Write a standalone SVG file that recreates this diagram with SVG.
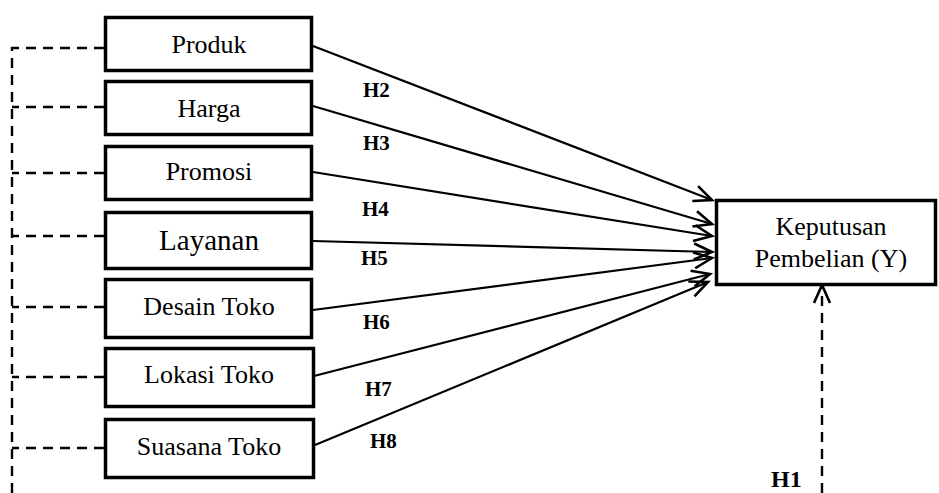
<svg xmlns="http://www.w3.org/2000/svg" width="939" height="493" viewBox="0 0 939 493">
<defs>
<style>
.box{fill:#fff;stroke:#000;stroke-width:3.5}
.lbl{font-family:"Liberation Serif","Times New Roman",serif;font-size:26px;fill:#000;text-anchor:middle}
.hl{font-family:"Liberation Serif","Times New Roman",serif;font-size:21px;font-weight:bold;fill:#000}
.arr{stroke:#000;stroke-width:2.2;fill:none;marker-end:url(#chev)}
.dash{stroke:#000;stroke-width:2.4;fill:none;stroke-dasharray:10 7}
</style>
<marker id="chev" markerUnits="userSpaceOnUse" markerWidth="30" markerHeight="30" refX="0" refY="0" viewBox="-20 -15 25 30" orient="auto">
<path d="M-18,-8 L0,0 L-18,8" fill="none" stroke="#000" stroke-width="2.6"/>
</marker>
</defs>
<g id="connectors">
<path class="dash" d="M104,48 H12 V493"/>
<path class="dash" d="M104,107 H12"/>
<path class="dash" d="M104,173 H12"/>
<path class="dash" d="M104,236 H12"/>
<path class="dash" d="M104,307 H12"/>
<path class="dash" d="M104,377 H12"/>
<path class="dash" d="M104,448 H12"/>
<line class="arr" x1="313" y1="46" x2="712" y2="200"/>
<line class="arr" x1="313" y1="106" x2="712" y2="224"/>
<line class="arr" x1="313" y1="172" x2="712" y2="236"/>
<line class="arr" x1="313" y1="241" x2="712" y2="252"/>
<line class="arr" x1="313" y1="310" x2="712" y2="258"/>
<line class="arr" x1="314" y1="376" x2="710" y2="274"/>
<line class="arr" x1="315" y1="445" x2="708" y2="282"/>
<line class="dash" x1="822" y1="493" x2="822" y2="285" style="marker-end:url(#chev)"/>
<text class="hl" x="363" y="97">H2</text>
<text class="hl" x="363" y="150">H3</text>
<text class="hl" x="362" y="216">H4</text>
<text class="hl" x="361" y="265">H5</text>
<text class="hl" x="363" y="329">H6</text>
<text class="hl" x="365" y="396">H7</text>
<text class="hl" x="370" y="448">H8</text>
<text class="hl" x="771" y="487" style="font-size:24px">H1</text>
</g>
<g id="produk"><rect class="box" x="105.5" y="17.5" width="206" height="53"/><text class="lbl" x="209" y="53">Produk</text></g>
<g id="harga"><rect class="box" x="105.5" y="81.5" width="206" height="53"/><text class="lbl" x="209" y="117">Harga</text></g>
<g id="promosi"><rect class="box" x="105.5" y="146.5" width="206" height="53"/><text class="lbl" x="209" y="180">Promosi</text></g>
<g id="layanan"><rect class="box" x="105.5" y="212.5" width="206" height="56"/><text class="lbl" x="209" y="250" style="font-size:29px">Layanan</text></g>
<g id="desain"><rect class="box" x="105.5" y="279.5" width="206" height="58"/><text class="lbl" x="209" y="315">Desain Toko</text></g>
<g id="lokasi"><rect class="box" x="105.5" y="348.5" width="208" height="58"/><text class="lbl" x="209" y="383">Lokasi Toko</text></g>
<g id="suasana"><rect class="box" x="105.5" y="419.5" width="208" height="58"/><text class="lbl" x="209" y="455">Suasana Toko</text></g>
<g id="keputusan"><rect class="box" x="716.5" y="200.5" width="219" height="84"/><text class="lbl" x="831" y="235">Keputusan</text><text class="lbl" x="831" y="267">Pembelian (Y)</text></g>
</svg>
